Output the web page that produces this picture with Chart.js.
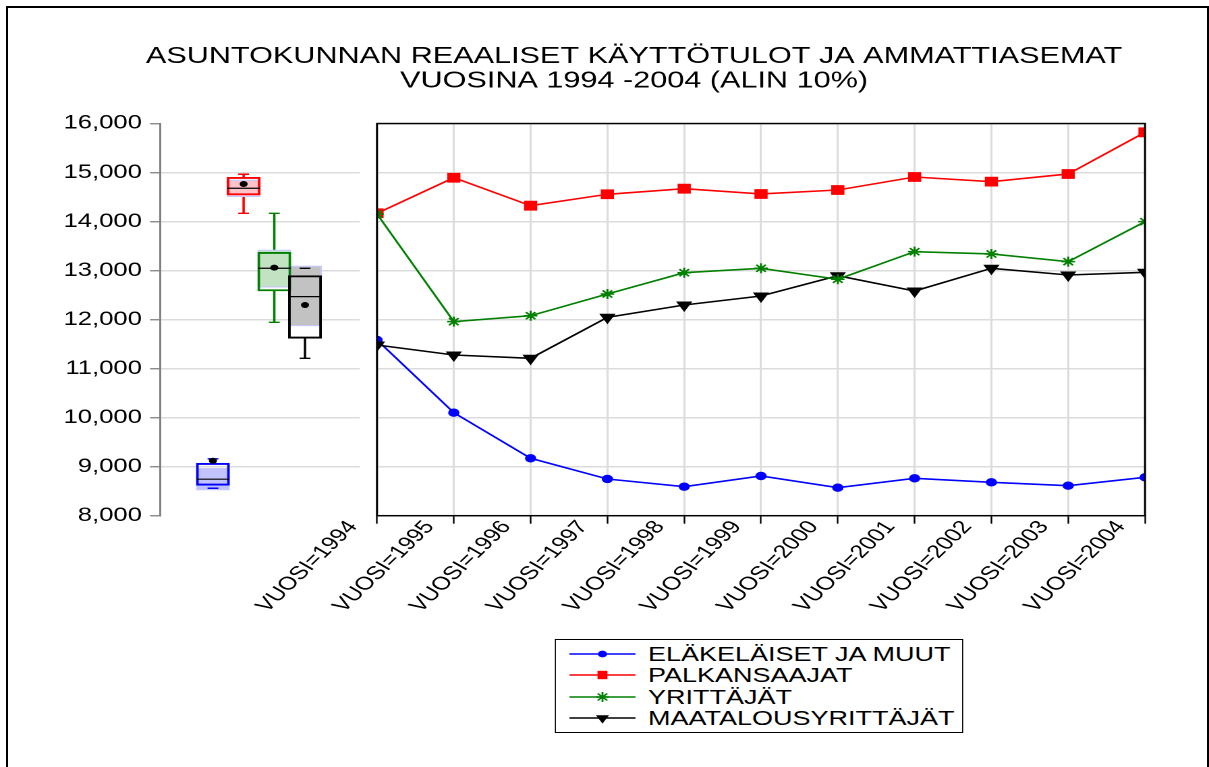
<!DOCTYPE html>
<html><head><meta charset="utf-8">
<script src="https://cdn.jsdelivr.net/npm/chart.js@4.4.1/dist/chart.umd.min.js"></script>
<style>
html,body{margin:0;padding:0;background:#fff;width:1209px;height:767px;overflow:hidden;}
#frame{position:absolute;left:6px;top:6px;width:1203px;height:820px;border:2px solid #000;box-sizing:border-box;}
#stage{position:absolute;left:0;top:0;width:896px;height:767px;transform:scaleX(1.34933);transform-origin:0 0;}
#cA,#cB{position:absolute;left:0;top:0;}
#legend{position:absolute;left:411.3px;top:639px;width:302.4px;height:94px;border:1px solid #000;box-sizing:border-box;background:#fff;font-family:'Liberation Sans',Arial,sans-serif;font-size:20px;color:#000;}
#legend .row{position:absolute;left:0;right:0;height:20px;}
#legend canvas{position:absolute;left:10px;top:3px;}
#legend span{position:absolute;left:68px;top:0;line-height:20px;white-space:nowrap;}
</style></head>
<body>
<div id="frame"></div>
<div id="stage">
  <canvas id="cB" width="896" height="767"></canvas>
  <canvas id="cA" width="280" height="767"></canvas>
  <div id="legend"></div>
</div>
<script>
// ---------- data ----------
const titleLines = ['ASUNTOKUNNAN REAALISET KÄYTTÖTULOT JA AMMATTIASEMAT', 'VUOSINA 1994 -2004 (ALIN 10%)'];
const years = [1994, 1995, 1996, 1997, 1998, 1999, 2000, 2001, 2002, 2003, 2004];
const xLabels = years.map(y => 'VUOSI=' + y);
const seriesNames = ['ELÄKELÄISET JA MUUT', 'PALKANSAAJAT', 'YRITTÄJÄT', 'MAATALOUSYRITTÄJÄT'];
const elakelaiset = [11584, 10101, 9171, 8749, 8592, 8810, 8571, 8763, 8681, 8612, 8783];
const palkansaajat = [14169, 14895, 14324, 14557, 14671, 14563, 14644, 14909, 14814, 14971, 15821];
const yrittajat = [14155, 11958, 12080, 12523, 12957, 13047, 12823, 13386, 13339, 13182, 13998];
const maatalous = [11482, 11278, 11211, 12047, 12298, 12482, 12896, 12584, 13047, 12910, 12965];
// box plot summaries (one per series, same order)
const whiskerHigh = [9160, 14965, 14169, 13047];
const boxQ3 = [9070, 14903, 13373, 12896];
const boxMedian = [8745, 14679, 13047, 12468];
const boxMean = [9122, 14767, 13059, 12298];
const boxQ1 = [8620, 14542, 12584, 11619];
const whiskerLow = [8560, 14169, 11945, 11211];
const bandHigh = [8967, 14848, 13420, 13094];
const bandLow = [8524, 14508, 12659, 11870];
const yMin = 8000, yMax = 16000, yStep = 1000;

// ---------- styles ----------
const FONT = "'Liberation Sans', Arial, sans-serif";
const colors = ['#0000ff', '#ff0000', '#008000', '#000000'];
const bandFill = ['#c2c2ff', '#ffc2c8', '#c2e2c2', '#c2c2c2'];
const GRID = '#dcdcdc';
const fmt = v => String(v).replace(/\B(?=(\d{3})+(?!\d))/g, ',');

// ---------- chart A: box plots with the y axis ----------
const idx = seriesNames.map((_, i) => i);
const fl = (lo, hi) => idx.map(i => ({x: i, y: [lo[i], hi[i]]}));
const pt = arr => idx.map(i => ({x: i, y: arr[i]}));
const barBase = {type: 'bar', grouped: false, borderSkipped: false};

new Chart(document.getElementById('cA'), {
  type: 'bar',
  data: {
    datasets: [
      {...barBase, order: 6, data: fl(whiskerLow, boxQ1), backgroundColor: colors, borderWidth: 0, barThickness: 1.1},
      {...barBase, order: 6, data: fl(boxQ3, whiskerHigh), backgroundColor: colors, borderWidth: 0, barThickness: 1.1},
      {...barBase, order: 5, data: fl(bandLow, bandHigh), backgroundColor: bandFill, borderColor: '#c8c8ff', borderWidth: 1.2, barThickness: 24.4},
      {...barBase, order: 4, data: fl(boxQ1, boxQ3), backgroundColor: 'rgba(0,0,0,0)', borderColor: colors, borderWidth: 1.3, barThickness: 24.4},
      {type: 'scatter', order: 3, data: pt(whiskerLow), pointStyle: 'line', pointRadius: 4, pointBorderColor: colors, pointBorderWidth: 1.4},
      {type: 'scatter', order: 3, data: pt(whiskerHigh), pointStyle: 'line', pointRadius: 4, pointBorderColor: colors, pointBorderWidth: 1.4},
      {type: 'scatter', order: 2, data: pt(boxMedian), pointStyle: 'line', pointRadius: 12.2, pointBorderColor: '#000', pointBorderWidth: 1.2},
      {type: 'scatter', order: 1, data: pt(boxMean), pointStyle: 'circle', pointRadius: 3, pointBackgroundColor: '#000', pointBorderColor: '#000', pointBorderWidth: 0}
    ]
  },
  options: {
    responsive: false, animation: false, devicePixelRatio: 2, events: [],
    layout: {padding: {top: 123.5, bottom: 251.3, left: 0, right: 0.6}},
    plugins: {legend: {display: false}, title: {display: false}, tooltip: {enabled: false}},
    scales: {
      x: {type: 'linear', min: -0.640, max: 3.699, display: false},
      y: {
        min: yMin, max: yMax,
        ticks: {stepSize: yStep, color: '#000', padding: 6, font: {family: FONT, size: 19}, callback: v => fmt(v)},
        grid: {
          color: c => (c.tick && (c.tick.value === yMin || c.tick.value === yMax)) ? 'rgba(0,0,0,0)' : GRID,
          lineWidth: 1.5, tickColor: '#808080', tickLength: 7.4, tickWidth: 1.3
        },
        border: {color: '#808080', width: 1.5},
        afterFit: s => { s.width = 118.58; }
      }
    }
  }
});

// ---------- chart B: lines ----------
const framePlugin = {
  id: 'frame',
  afterDatasetsDraw(chart) {
    const {ctx, chartArea: a} = chart;
    ctx.save();
    ctx.strokeStyle = '#000';
    ctx.lineWidth = 1.5;
    ctx.strokeRect(a.left, a.top, a.right - a.left, a.bottom - a.top);
    ctx.restore();
  }
};

const lineBase = {borderWidth: 1.6, tension: 0, clip: 0, pointBorderWidth: 1};
const chartB = new Chart(document.getElementById('cB'), {
  type: 'line',
  data: {
    labels: xLabels,
    datasets: [
      {...lineBase, order: 4, label: seriesNames[0], data: elakelaiset, borderColor: colors[0], backgroundColor: colors[0], pointStyle: 'circle', pointRadius: 3.7},
      {...lineBase, order: 3, label: seriesNames[1], data: palkansaajat, borderColor: colors[1], backgroundColor: colors[1], pointStyle: 'rect', pointRadius: 6.2},
      {...lineBase, order: 1, label: seriesNames[2], data: yrittajat, borderColor: colors[2], backgroundColor: colors[2], pointStyle: 'star', pointRadius: 5, pointBorderWidth: 1.5},
      {...lineBase, order: 2, label: seriesNames[3], data: maatalous, borderColor: colors[3], backgroundColor: colors[3], pointStyle: 'triangle', pointRotation: 180, pointRadius: 6}
    ]
  },
  options: {
    responsive: false, animation: false, devicePixelRatio: 2, events: [],
    layout: {padding: {top: 0, left: 91.22, right: 47.42, bottom: 141.3}},
    plugins: {
      legend: {display: false}, tooltip: {enabled: false},
      title: {display: true, text: titleLines, color: '#000', font: {family: FONT, size: 22.7, weight: 'normal', lineHeight: 1.08}, padding: {top: 44.3, bottom: 30.2}}
    },
    scales: {
      x: {
        ticks: {color: '#000', autoSkip: false, minRotation: 52, maxRotation: 52, labelOffset: -18, padding: -7, font: {family: FONT, size: 18.5}},
        grid: {color: GRID, lineWidth: 1.5, tickColor: '#000', tickLength: 8, tickWidth: 1.2},
        border: {display: false},
        afterFit: s => { s.height = 110; }
      },
      y: {
        min: yMin, max: yMax,
        ticks: {display: false, stepSize: yStep},
        grid: {color: GRID, lineWidth: 1.5, drawTicks: false},
        border: {display: false},
        afterFit: s => { s.width = 188.18; }
      }
    }
  },
  plugins: [framePlugin]
});

// ---------- HTML legend built from chart B's datasets ----------
function sample(ds) {
  const W = 49, H = 14, R = 2;
  const c = document.createElement('canvas');
  c.width = W * R; c.height = H * R; c.style.width = W + 'px'; c.style.height = H + 'px';
  const g = c.getContext('2d');
  g.scale(R, R);
  g.strokeStyle = ds.borderColor; g.fillStyle = ds.borderColor; g.lineWidth = 1.5;
  g.beginPath(); g.moveTo(0, H / 2); g.lineTo(W, H / 2); g.stroke();
  const cx = W / 2, cy = H / 2;
  g.beginPath();
  if (ds.pointStyle === 'circle') { g.arc(cx, cy, 3.4, 0, Math.PI * 2); g.fill(); }
  else if (ds.pointStyle === 'rect') { g.fillRect(cx - 3.7, cy - 4.2, 7.4, 8.4); }
  else if (ds.pointStyle === 'star') {
    const r = 5;
    for (let k = 0; k < 4; k++) { const a = k * Math.PI / 4; g.moveTo(cx - r * Math.cos(a), cy - r * Math.sin(a)); g.lineTo(cx + r * Math.cos(a), cy + r * Math.sin(a)); }
    g.lineWidth = 1.4; g.stroke();
  } else if (ds.pointStyle === 'triangle') {
    const r = 5.6;
    g.moveTo(cx - r * 0.866, cy - r * 0.5); g.lineTo(cx + r * 0.866, cy - r * 0.5); g.lineTo(cx, cy + r); g.closePath(); g.fill();
  }
  return c;
}
const legendEl = document.getElementById('legend');
chartB.data.datasets.forEach((ds, i) => {
  const row = document.createElement('div');
  row.className = 'row';
  row.style.top = (14 + 21.3 * i - 10) + 'px';
  row.appendChild(sample(ds));
  const sp = document.createElement('span');
  sp.textContent = ds.label;
  row.appendChild(sp);
  legendEl.appendChild(row);
});
</script>
</body></html>
